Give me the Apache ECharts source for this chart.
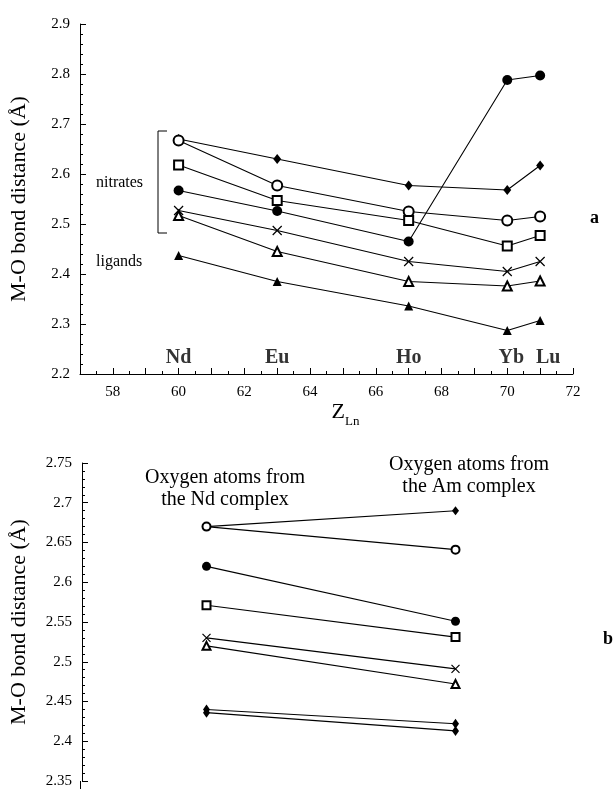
<!DOCTYPE html>
<html>
<head>
<meta charset="utf-8">
<script src="https://cdn.jsdelivr.net/npm/echarts@6/dist/echarts.min.js"></script>
<style>
html,body{margin:0;padding:0;background:#fff;}
#c{width:614px;height:789px;}
</style>
</head>
<body>
<div id="c"></div>
<script>
// ---- Panel a data ----
const zLn = [60, 63, 67, 70, 71];
const elements = ['Nd', 'Eu', 'Ho', 'Yb', 'Lu'];
const aFilledDiamond = [2.67, 2.63, 2.577, 2.568, 2.617];
const aOpenCircle   = [2.667, 2.577, 2.525, 2.507, 2.515];
const aOpenSquare   = [2.618, 2.547, 2.507, 2.456, 2.477];
const aFilledCircle = [2.567, 2.526, 2.465, 2.788, 2.797];
const aCross        = [2.527, 2.487, 2.425, 2.405, 2.425];
const aOpenTriangle = [2.517, 2.445, 2.385, 2.376, 2.386];
const aFilledTriangle = [2.437, 2.385, 2.336, 2.287, 2.307];
const aYTicks = [2.2, 2.9];
const aXRange = [57, 72];

// ---- Panel b data ----
const bCategories = ['Nd complex', 'Am complex'];
const bFilledDiamond = [2.67, 2.69];
const bOpenCircle   = [2.67, 2.641];
const bFilledCircle = [2.62, 2.551];
const bOpenSquare   = [2.571, 2.531];
const bCross        = [2.53, 2.491];
const bOpenTriangle = [2.52, 2.472];
const bLowerA       = [2.44, 2.422];
const bLowerB       = [2.436, 2.413];
const bYRange = [2.35, 2.75];

const FONT = "Liberation Serif";
const CROSS = 'path://M0,0L10,10M10,0L0,10';

function mk(name, data, symbol, size, xi, extra) {
  const empty = symbol.indexOf('empty') === 0 || symbol === CROSS;
  const s = {
    name: name, type: 'line', xAxisIndex: xi, yAxisIndex: xi,
    data: data, symbol: symbol, symbolSize: size, showSymbol: true,
    lineStyle: {color: '#000', width: 1.1},
    itemStyle: {color: '#000', borderColor: '#000', borderWidth: empty ? 1.2 : 0},
    animation: false, z: 3
  };
  return Object.assign(s, extra || {});
}
function pairs(xs, ys) { return ys.map((v, i) => [xs[i], v]); }

const labelY = 2.232;
const elemLabelOffsets = [0, 0, 0, 4, 8];

const chart = echarts.init(document.getElementById('c'), null, {renderer: 'canvas'});

const axisCommon = {
  axisLine: {show: true, lineStyle: {color: '#000', width: 1}},
  axisTick: {show: true, inside: true, length: 6, lineStyle: {color: '#000'}},
  minorTick: {show: true, length: 3, lineStyle: {color: '#000'}},
  splitLine: {show: false},
  axisLabel: {color: '#000', fontFamily: FONT, fontSize: 15}
};

const option = {
  backgroundColor: '#fff',
  animation: false,
  grid: [
    {left: 80, top: 24, width: 493, height: 350},
    {left: 80, top: 463, width: 500, height: 318}
  ],
  xAxis: [
    Object.assign({}, axisCommon, {
      type: 'value', gridIndex: 0, min: aXRange[0], max: aXRange[1], interval: 1,
      minorTick: {show: true, splitNumber: 2, length: 3, lineStyle: {color: '#000'}},
      axisLabel: {color: '#000', fontFamily: FONT, fontSize: 15, margin: 11,
        formatter: v => (v % 2 === 0 ? String(v) : '')},
      name: '{z|Z}{s|Ln}', nameLocation: 'middle', nameGap: 20,
      nameTextStyle: {padding: [0, 0, 0, 38],
        rich: {z: {fontFamily: FONT, fontSize: 22, color: '#000', verticalAlign: 'top', padding: [0,0,0,0]},
               s: {fontFamily: FONT, fontSize: 13, color: '#000', verticalAlign: 'top', padding: [14,0,0,0]}}}
    }),
    {type: 'category', gridIndex: 1, data: bCategories, boundaryGap: true, show: false}
  ],
  yAxis: [
    Object.assign({}, axisCommon, {
      type: 'value', gridIndex: 0, min: aYTicks[0], max: aYTicks[1], interval: 0.1,
      minorTick: {show: true, splitNumber: 5, length: 3, lineStyle: {color: '#000'}},
      axisLabel: {color: '#000', fontFamily: FONT, fontSize: 15, margin: 10},
      name: 'M-O bond distance (Å)', nameLocation: 'middle', nameGap: 50,
      nameTextStyle: {fontFamily: FONT, fontSize: 22, color: '#000'}
    }),
    Object.assign({}, axisCommon, {
      type: 'value', gridIndex: 1, min: bYRange[0], max: bYRange[1], interval: 0.05,
      minorTick: {show: true, splitNumber: 5, length: 3, lineStyle: {color: '#000'}},
      axisLabel: {color: '#000', fontFamily: FONT, fontSize: 15, margin: 10},
      name: 'M-O bond distance (Å)', nameLocation: 'middle', nameGap: 52,
      nameTextStyle: {fontFamily: FONT, fontSize: 22, color: '#000'}
    })
  ],
  series: [
    // panel a
    mk('a-diamond', pairs(zLn, aFilledDiamond), 'diamond', [8, 10], 0),
    mk('a-opencircle', pairs(zLn, aOpenCircle), 'emptyCircle', 10, 0),
    mk('a-opensquare', pairs(zLn, aOpenSquare), 'emptyRect', 9, 0),
    mk('a-filledcircle', pairs(zLn, aFilledCircle), 'circle', 10, 0),
    mk('a-cross', pairs(zLn, aCross), CROSS, 9, 0),
    mk('a-opentriangle', pairs(zLn, aOpenTriangle), 'emptyTriangle', 9, 0),
    mk('a-filledtriangle', pairs(zLn, aFilledTriangle), 'triangle', 9, 0),
    {
      type: 'scatter', xAxisIndex: 0, yAxisIndex: 0, symbolSize: 0, silent: true,
      data: zLn.map((z, i) => ({value: [z, labelY], name: elements[i],
        label: {offset: [elemLabelOffsets[i], 0]}})),
      label: {show: true, position: 'inside', formatter: p => p.name,
        fontFamily: FONT, fontSize: 20, fontWeight: 'bold', color: '#000'}
    },
    // panel b
    mk('b-diamond', bFilledDiamond.map((v, i) => i === 0 ? {value: v, symbol: 'circle', symbolSize: 8} : v), 'diamond', [7, 9], 1),
    mk('b-opencircle', bOpenCircle, 'emptyCircle', 8, 1),
    mk('b-filledcircle', bFilledCircle, 'circle', 9, 1),
    mk('b-opensquare', bOpenSquare, 'emptyRect', 8, 1),
    mk('b-cross', bCross, CROSS, 8, 1),
    mk('b-opentriangle', bOpenTriangle, 'emptyTriangle', 8, 1),
    mk('b-lowerA', bLowerA, 'diamond', [7, 10], 1),
    mk('b-lowerB', bLowerB, 'diamond', [7, 10], 1)
  ],
  graphic: [
    {type: 'polyline', shape: {points: [[167, 131], [158, 131], [158, 233], [167, 233]]},
     style: {stroke: '#000', lineWidth: 1, fill: null}},
    {type: 'text', left: 96, top: 175, style: {text: 'nitrates', font: "16px 'Liberation Serif', serif", fill: '#000'}},
    {type: 'text', left: 96, top: 254, style: {text: 'ligands', font: "16px 'Liberation Serif', serif", fill: '#000'}},
    {type: 'text', left: 590, top: 209, style: {text: 'a', font: "bold 18px 'Liberation Serif', serif", fill: '#000'}},
    {type: 'text', left: 603, top: 630, style: {text: 'b', font: "bold 18px 'Liberation Serif', serif", fill: '#000'}},
    {type: 'line', shape: {x1: 80.5, y1: 781, x2: 80.5, y2: 789}, style: {stroke: '#000', lineWidth: 1}},
    {type: 'text', x: 225, y: 467, style: {text: 'Oxygen atoms from\nthe Nd complex', font: "20px 'Liberation Serif', serif",
      fill: '#000', align: 'center', verticalAlign: 'top', lineHeight: 22}},
    {type: 'text', x: 469, y: 454, style: {text: 'Oxygen atoms from\nthe Am complex', font: "20px 'Liberation Serif', serif",
      fill: '#000', align: 'center', verticalAlign: 'top', lineHeight: 22}}
  ]
};
chart.setOption(option);
</script>
</body>
</html>
